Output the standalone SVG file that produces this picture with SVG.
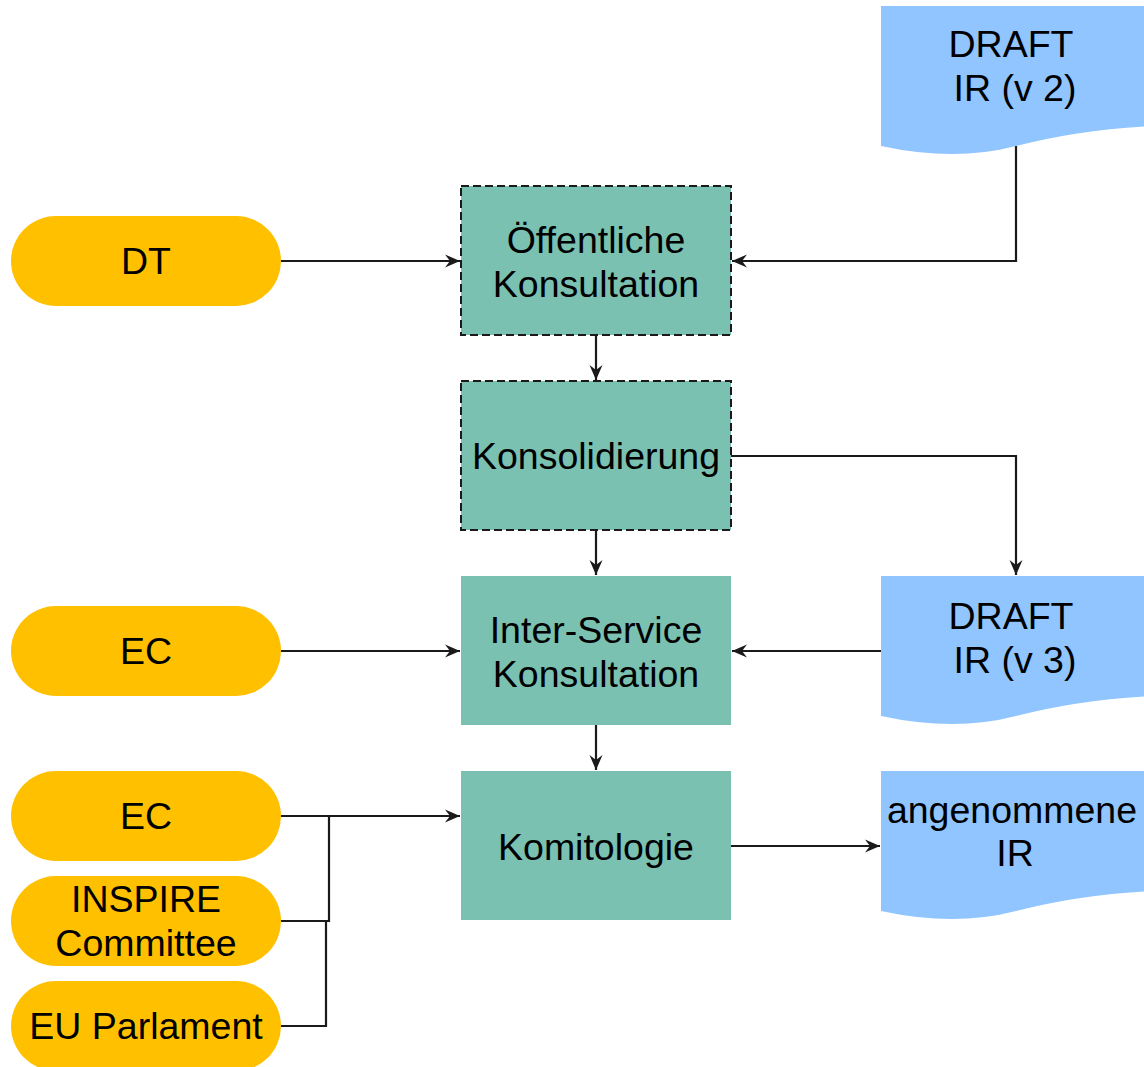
<svg xmlns="http://www.w3.org/2000/svg" width="1144" height="1067" viewBox="0 0 1144 1067">
<style>
.pill{fill:#FFC000;}
.box{fill:#7AC1B2;}
.dash{stroke:#1a1a1a;stroke-width:2;stroke-dasharray:8 4;}
.doc{fill:#91C5FF;}
text{font-family:"Liberation Sans",Arial,sans-serif;font-size:37.5px;fill:#000;text-anchor:middle;}
.edge{fill:none;stroke:#1a1a1a;stroke-width:2.2;}
</style>
<defs>
<marker id="arr" markerWidth="18" markerHeight="16" viewBox="0 0 18 16" refX="16" refY="8" orient="auto" markerUnits="userSpaceOnUse">
<path d="M1,1.5 L16,8 L1,14.5 L6,8 Z" fill="#1a1a1a"/>
</marker>
</defs>
<rect width="1144" height="1067" fill="#ffffff"/>

<g id="connectors">
<path class="edge" d="M281,261 H460" marker-end="url(#arr)"/>
<path class="edge" d="M1016,146 V261 H732" marker-end="url(#arr)"/>
<path class="edge" d="M596,335 V380" marker-end="url(#arr)"/>
<path class="edge" d="M731,456 H1016 V575" marker-end="url(#arr)"/>
<path class="edge" d="M596,530 V575" marker-end="url(#arr)"/>
<path class="edge" d="M281,651 H460" marker-end="url(#arr)"/>
<path class="edge" d="M881,651 H732" marker-end="url(#arr)"/>
<path class="edge" d="M596,725 V770" marker-end="url(#arr)"/>
<path class="edge" d="M281,816 H460" marker-end="url(#arr)"/>
<path class="edge" d="M281,921 H329 V816"/>
<path class="edge" d="M281,1026 H326 V921"/>
<path class="edge" d="M731,846 H880" marker-end="url(#arr)"/>
</g>

<g id="draft-v2">
<path class="doc" d="M881,6 H1151 V126 Q1077,130 1016,146 Q955,162 881,146 Z"/>
<text x="1011" y="57">DRAFT</text>
<text x="1015" y="101">IR (v 2)</text>
</g>

<g id="dt">
<rect class="pill" x="11" y="216" width="270" height="90" rx="45"/>
<text x="146" y="274">DT</text>
</g>

<g id="oeffentliche-konsultation">
<rect class="box dash" x="461" y="186" width="270" height="149"/>
<text x="596" y="253">Öffentliche</text>
<text x="596" y="297">Konsultation</text>
</g>

<g id="konsolidierung">
<rect class="box dash" x="461" y="381" width="270" height="149"/>
<text x="596" y="469">Konsolidierung</text>
</g>

<g id="ec1">
<rect class="pill" x="11" y="606" width="270" height="90" rx="45"/>
<text x="146" y="664">EC</text>
</g>

<g id="inter-service-konsultation">
<rect class="box" x="461" y="576" width="270" height="149"/>
<text x="596" y="643">Inter-Service</text>
<text x="596" y="687">Konsultation</text>
</g>

<g id="draft-v3">
<path class="doc" d="M881,576 H1151 V696 Q1077,700 1016,716 Q955,732 881,716 Z"/>
<text x="1011" y="629">DRAFT</text>
<text x="1015" y="673">IR (v 3)</text>
</g>

<g id="ec2">
<rect class="pill" x="11" y="771" width="270" height="90" rx="45"/>
<text x="146" y="829">EC</text>
</g>

<g id="inspire-committee">
<rect class="pill" x="11" y="876" width="270" height="90" rx="45"/>
<text x="146" y="912">INSPIRE</text>
<text x="146" y="956">Committee</text>
</g>

<g id="eu-parlament">
<rect class="pill" x="11" y="981" width="270" height="90" rx="45"/>
<text x="146" y="1039">EU Parlament</text>
</g>

<g id="komitologie">
<rect class="box" x="461" y="771" width="270" height="149"/>
<text x="596" y="860">Komitologie</text>
</g>

<g id="angenommene-ir">
<path class="doc" d="M881,771 H1151 V891 Q1077,895 1016,911 Q955,927 881,911 Z"/>
<text x="1012" y="823">angenommene</text>
<text x="1015" y="866">IR</text>
</g>
</svg>
